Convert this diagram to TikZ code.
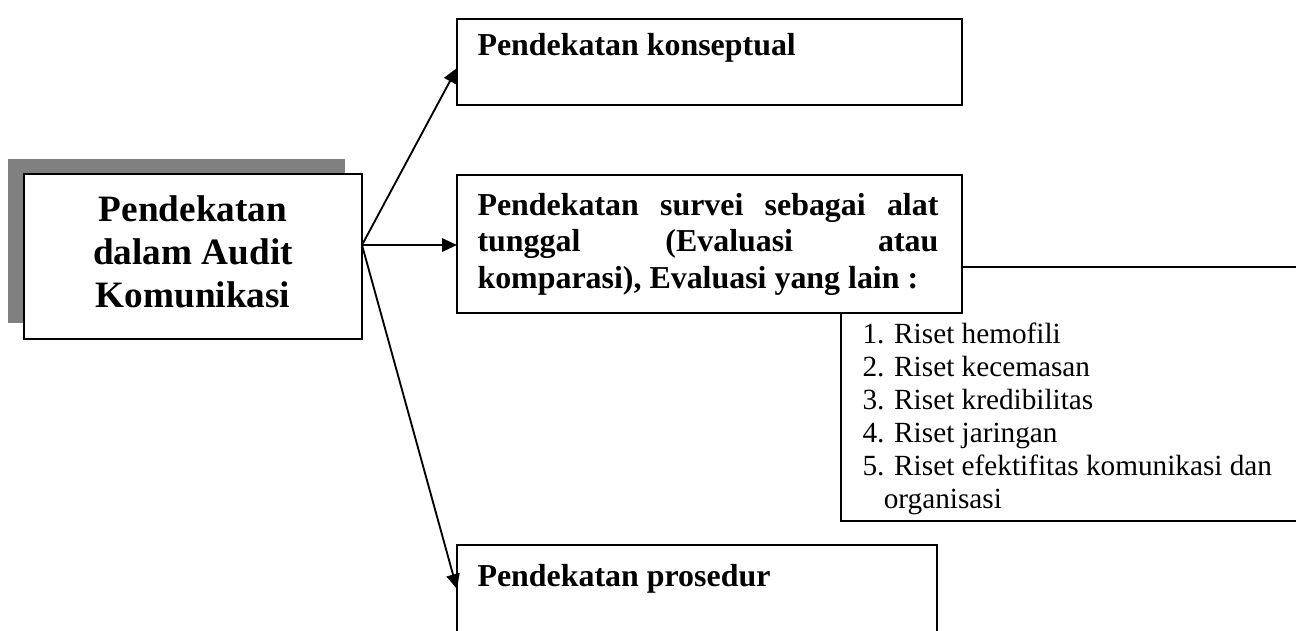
\documentclass[tikz,border=0pt]{standalone}
\usepackage{fontspec}
\setmainfont{Liberation Serif}
\usetikzlibrary{arrows.meta,fit}
\tikzset{
  kotak/.style={draw,line width=0.9pt,fill=white,inner sep=0pt},
  teks/.style={inner sep=0pt,anchor=base west,font=\fontsize{12}{13.8}\selectfont\bfseries},
  panah/.style={-{Triangle[length=5.6pt,width=5pt]},line width=0.7pt}
}
\begin{document}
\begin{tikzpicture}[x=0.376pt,y=-0.376pt]
  \useasboundingbox (0,0) rectangle (1296,630);
  \clip (0,0) rectangle (1296,630);
  % kotak utama dengan bayangan
  \node[fill=black!50,inner sep=0pt,fit={(8,159) (345,323)}] (bayang) {};
  \node[kotak,fit={(24,174) (362,339)}] (pusat) {};
  \node[inner sep=0pt,anchor=base,align=center,font=\fontsize{14}{16}\selectfont\bfseries] (judul) at (193,307) {Pendekatan\\dalam Audit\\Komunikasi};
  % kotak kanan
  \node[kotak,fit={(457,19) (962,105)}] (konsep) {};
  \node[teks] (konsepteks) at (477,55) {Pendekatan konseptual};
  \node[kotak,fit={(841,267) (1330,521)}] (riset) {};
  \node[kotak,fit={(457,175) (962,313)}] (survei) {};
  \node[teks,text width=173.3pt,align=justify] (surveiteks) at (477,215) {Pendekatan survei sebagai alat\linebreak tunggal (Evaluasi atau\linebreak komparasi), Evaluasi yang lain :};
  \node[teks,font=\fontsize{11}{12.4}\selectfont,align=left] (daftar) at (862,508) {1. Riset hemofili\\2. Riset kecemasan\\3. Riset kredibilitas\\4. Riset jaringan\\5. Riset efektifitas komunikasi dan\\\hspace*{8pt}organisasi};
  \node[kotak,fit={(457,545) (937,660)}] (prosedur) {};
  \node[teks] (prosedurteks) at (477,586) {Pendekatan prosedur};
  % panah
  \coordinate (asal) at (362,245);
  \coordinate (ujung1) at (457,68);
  \coordinate (ujung2) at (457,245);
  \coordinate (ujung3) at (457,589);
  \draw[panah] (asal) -- (ujung1);
  \draw[panah] (asal) -- (ujung2);
  \draw[panah] (asal) -- (ujung3);
\end{tikzpicture}
\end{document}
